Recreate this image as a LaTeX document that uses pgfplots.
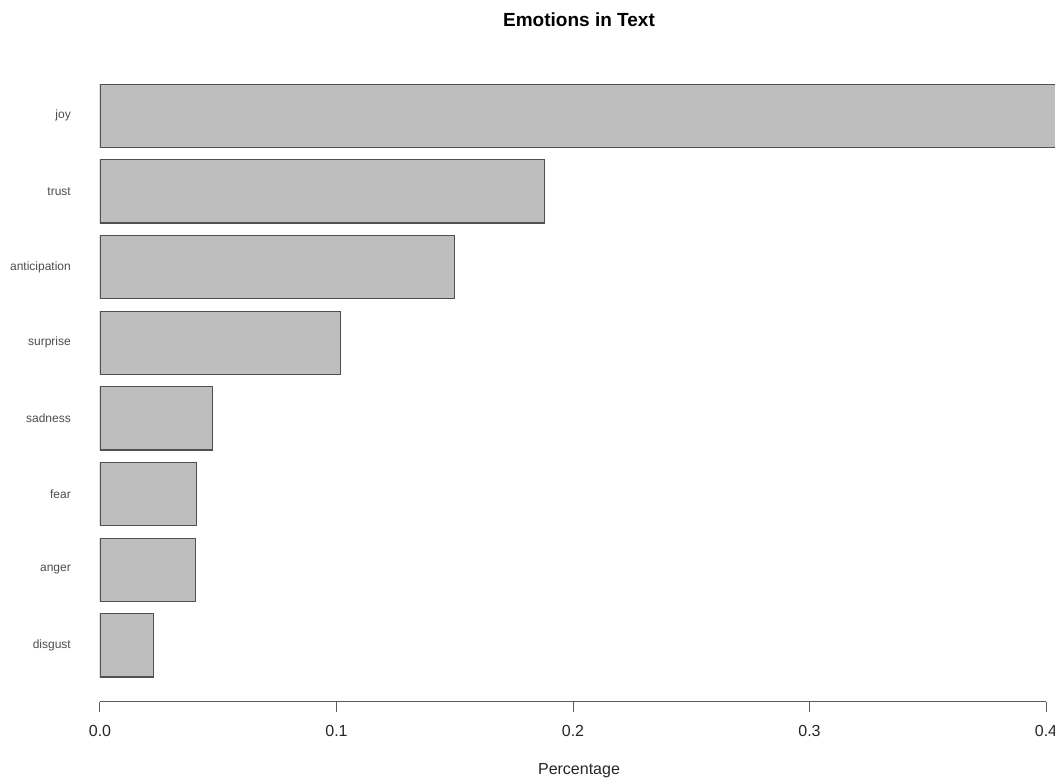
\documentclass[border=0pt]{standalone}
\usepackage{pgfplots}
\pgfplotsset{compat=1.18}
\usepackage{fontspec}
\setmainfont{Liberation Sans}
\definecolor{barfill}{HTML}{BEBEBE}
\definecolor{barline}{HTML}{505050}
\definecolor{axisgray}{HTML}{5A5A5A}
\begin{document}
\begin{tikzpicture}
\useasboundingbox (-100pt,-76.3pt) rectangle (955pt,701.7pt);
\begin{axis}[
    at={(0pt,0pt)}, anchor=south west,
    scale only axis,
    width=955pt, height=623.7pt,
    xbar, bar width=0.834,
    xmin=0, xmax=0.4038,
    ymin=0.256, ymax=8.5,
    axis line style={draw=none},
    xtick={0,0.1,0.2,0.3,0.4},
    xtick pos=bottom, xtick align=outside,
    major tick length=10pt,
    x tick style={axisgray, line width=1pt},
    ytick={1,2,3,4,5,6,7,8},
    yticklabels={disgust,anger,fear,sadness,surprise,anticipation,trust,joy},
    y tick style={draw=none},
    xticklabel style={font=\fontsize{16}{18}\selectfont, text=black!85, inner sep=0pt, anchor=north, yshift=-13.3pt},
    yticklabel style={font=\fontsize{12}{14}\selectfont, text=black!70, inner sep=0pt, anchor=east, xshift=-19pt},
    /pgf/number format/assume math mode=true,
    /pgf/number format/.cd, fixed, fixed zerofill, precision=1, /pgfplots/.cd,
    xlabel={Percentage},
    xlabel style={font=\fontsize{16}{18}\selectfont, text=black!85, at={(rel axis cs:0.5,0)}, anchor=base, yshift=-73.1pt, xshift=1.5pt, inner sep=0pt},
    title={\textbf{Emotions in Text}},
    title style={font=\fontsize{19}{21}\selectfont, at={(rel axis cs:0.5,1)}, anchor=base, yshift=45pt, xshift=1.5pt, inner sep=0pt},
]
\addplot[draw=barline, fill=barfill, line width=1.1pt] coordinates {
    (0.0228,1) (0.0404,2) (0.0408,3) (0.0474,4)
    (0.1015,5) (0.1500,6) (0.1880,7) (0.4300,8)
};
\coordinate (a0) at (axis cs:0,0.256);
\coordinate (a4) at (axis cs:0.4,0.256);
\end{axis}
\draw[axisgray, line width=1pt] (a0) -- (a4);
\end{tikzpicture}
\end{document}
